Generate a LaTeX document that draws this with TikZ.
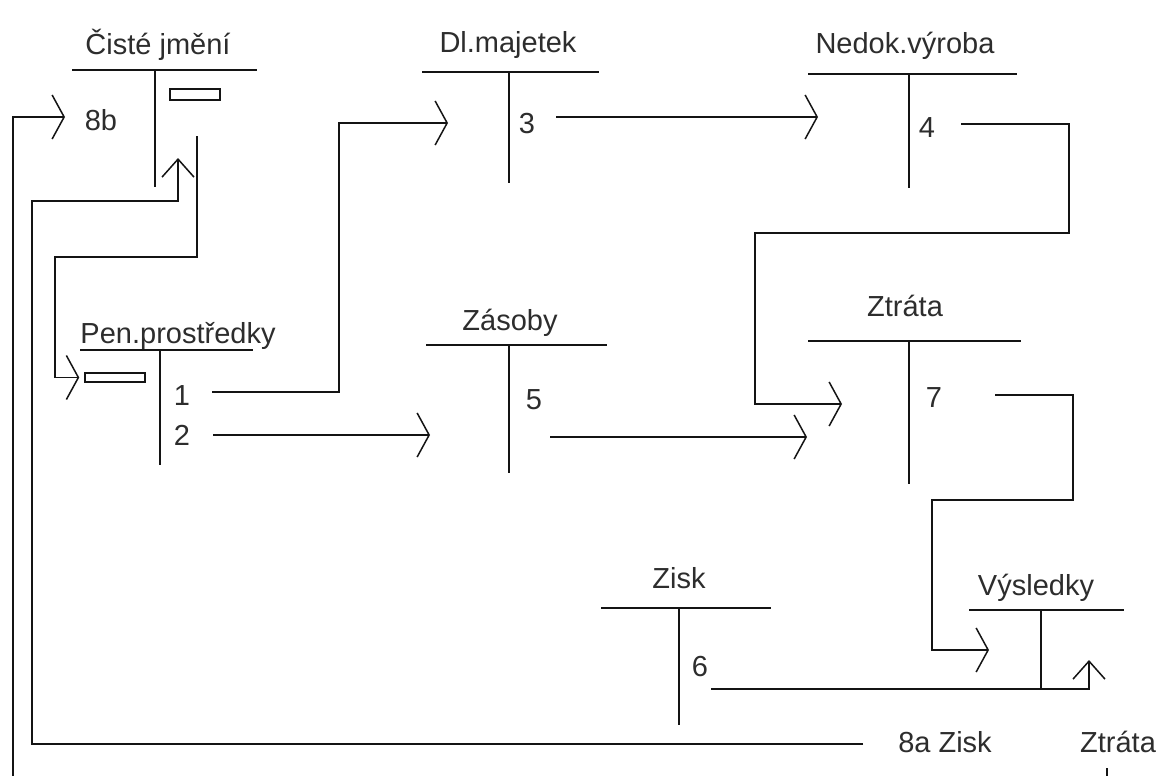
\documentclass[tikz,border=0pt]{standalone}
\usepackage{fontspec}
\setmainfont{Liberation Sans}
\usetikzlibrary{arrows.meta}
\definecolor{inkline}{RGB}{20, 20, 20}
\definecolor{inktext}{RGB}{45, 45, 45}

\begin{document}
\begin{tikzpicture}[
  x=1pt, y=-1pt,
  every node/.style={font=\fontsize{29}{32}\selectfont, text=inktext, inner sep=0pt},
  title/.style={anchor=base},
  amount/.style={anchor=base},
  slot/.style={rectangle, draw=inkline, line width=1.5pt, minimum width=50pt, minimum height=11pt},
  tline/.style={draw=inkline, line width=1.8pt},
  flow/.style={draw=inkline, line width=1.8pt, -{Straight Barb[length=12pt, width=44pt, line width=1.5pt]}},
  flowup/.style={draw=inkline, line width=1.8pt, -{Straight Barb[length=18pt, width=32pt, line width=1.5pt]}}
]

  \useasboundingbox (0,0) rectangle (1160,776);
  \clip (0,0) rectangle (1160,776);
  \fill[white] (0,0) rectangle (1160,776);

  % Account titles
  \node[title] (cj) at (158,55) {Čisté jmění};
  \node[title] (dl) at (508,53) {Dl.majetek};
  \node[title] (ne) at (905,54) {Nedok.výroba};
  \node[title] (pp) at (178,343) {Pen.prostředky};
  \node[title] (za) at (510,330) {Zásoby};
  \node[title] (zt) at (905,316) {Ztráta};
  \node[title] (zi) at (679,588) {Zisk};
  \node[title] (vy) at (1036,595) {Výsledky};

  % T crosses
  \draw[tline] (72,70) -- (257,70) (155,70) -- (155,187);
  \draw[tline] (422,72) -- (599,72) (509,72) -- (509,183);
  \draw[tline] (808,74) -- (1017,74) (909,74) -- (909,188);
  \draw[tline] (80,350) -- (253,350) (160,350) -- (160,465);
  \draw[tline] (426,345) -- (607,345) (509,345) -- (509,473);
  \draw[tline] (808,341) -- (1021,341) (909,341) -- (909,484);
  \draw[tline] (601,608) -- (771,608) (679,608) -- (679,725);
  \draw[tline] (969,610) -- (1124,610) (1041,610) -- (1041,689);

  % Balance slots
  \node[slot] (cjSlot) at (195,94.5) {};
  \node[slot, minimum width=60pt, minimum height=9pt] (ppSlot) at (115,377.5) {};

  % Entries
  \node[amount] (n8b) at (101,130) {8b};
  \node[amount] (n1) at (182,405) {1};
  \node[amount] (n2) at (182,445) {2};
  \node[amount] (n3) at (527,133) {3};
  \node[amount] (n4) at (927,137) {4};
  \node[amount] (n5) at (534,409) {5};
  \node[amount] (n7) at (934,407) {7};
  \node[amount] (n6) at (700,676) {6};
  \node[amount] (n8a) at (945,752) {8a Zisk};
  \node[amount] (zt2) at (1118,752) {Ztráta};

  % Line ends
  \coordinate (o1) at (212,392);
  \coordinate (o2) at (213,435);
  \coordinate (o3) at (556,117);
  \coordinate (o4) at (961,124);
  \coordinate (o5) at (550,437);
  \coordinate (o6) at (711,689);
  \coordinate (o7) at (995,395);
  \coordinate (o8a) at (863,744);
  \coordinate (ocj) at (197,136);
  \coordinate (ozt) at (1107,768);
  \coordinate (i8b) at (65,117);
  \coordinate (idl) at (448,123);
  \coordinate (iza) at (430,435);
  \coordinate (ine) at (818,117);
  \coordinate (izt4) at (842,404);
  \coordinate (izt5) at (807,437);
  \coordinate (ivy7) at (989,650);
  \coordinate (ivy6) at (1089,660);
  \coordinate (icj) at (178,158);

  % Postings
  \draw[flow] (o1) -- ++(127,0) |- (idl);
  \draw[flow] (o2) -- (iza);
  \draw[flow] (o3) -- (ine);
  \draw[flow] (o4) -- ++(108,0) |- ++(-314,109) |- (izt4);
  \draw[flow] (o5) -- (izt5);
  \draw[flow] (o7) -- ++(78,0) |- ++(-141,105) |- (ivy7);
  \draw[flowup] (o6) -| (ivy6);
  \draw[flowup] (o8a) -- ++(-831,0) |- ++(146,-543) -- (icj);
  \draw[flow, shorten >=5pt] (ocj) |- ++(-142,121) |- (ppSlot.west);
  \draw[flow] (ozt) |- ++(-1094,32) |- (i8b);

\end{tikzpicture}
\end{document}
